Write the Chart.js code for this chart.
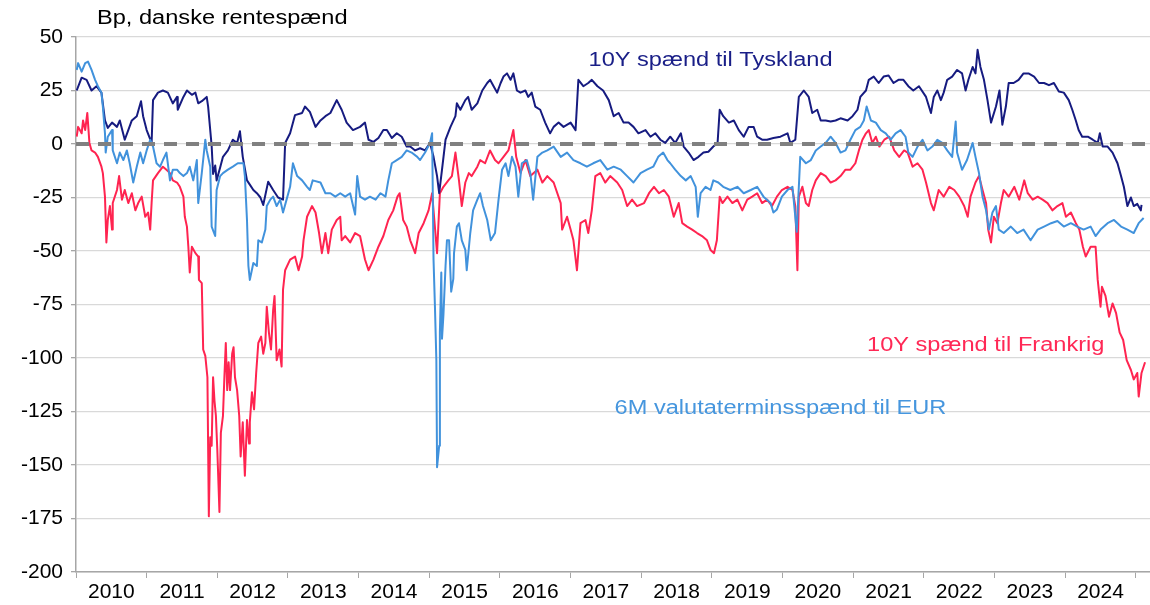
<!DOCTYPE html>
<html>
<head>
<meta charset="utf-8">
<title>Danske rentespænd</title>
<script src="https://cdn.jsdelivr.net/npm/chart.js@4.4.1/dist/chart.umd.min.js"></script>
<style>
  html, body { margin: 0; padding: 0; background: #fff; }
  #wrap { width: 1150px; height: 605px; }
</style>
</head>
<body>
<div id="wrap"><canvas id="chart" width="1150" height="605"></canvas></div>
<script>
// --- data (decimal year, basis points) ---
const years = [2010, 2011, 2012, 2013, 2014, 2015, 2016, 2017, 2018, 2019, 2020, 2021, 2022, 2023, 2024];

// 10Y spænd til Tyskland
const spreadGermany = [
  [2010.01,25],[2010.08,31],[2010.15,30],[2010.22,25],[2010.29,27],[2010.36,24],[2010.41,11],[2010.45,7.5],[2010.51,10],[2010.58,8],[2010.62,11],[2010.69,2],[2010.74,6.5],[2010.79,11],[2010.86,13],[2010.92,20],[2010.95,13],
  [2011.00,6.5],[2011.07,0.5],[2011.09,20.5],[2011.16,24],[2011.23,25],[2011.30,24],[2011.37,19],[2011.43,22],[2011.44,16],[2011.52,22],[2011.57,25],[2011.64,23],[2011.69,24],[2011.73,19],[2011.78,20],[2011.85,22],[2011.87,17.5],[2011.92,-1],[2011.94,-14],[2011.97,-10],[2011.99,-17],
  [2012.04,-11],[2012.08,-6],[2012.15,-3],[2012.22,2],[2012.28,0.5],[2012.32,6],[2012.36,-6],[2012.42,-17],[2012.46,-19],[2012.51,-21.5],[2012.56,-23],[2012.61,-25],[2012.65,-28.5],[2012.72,-17.6],[2012.79,-21.5],[2012.86,-25],[2012.93,-26],[2012.96,0.5],
  [2013.03,5],[2013.10,13.5],[2013.20,14.5],[2013.24,17.5],[2013.31,15],[2013.39,8],[2013.46,11],[2013.53,13],[2013.60,14.5],[2013.69,20.5],[2013.76,16],[2013.83,10],[2013.92,6.5],
  [2014.02,8],[2014.09,10],[2014.14,2],[2014.21,1],[2014.28,2.8],[2014.35,6.5],[2014.40,6.5],[2014.47,2.8],[2014.54,5],[2014.61,3.4],[2014.68,-1.2],[2014.73,-1.2],[2014.80,-3],[2014.87,-2],[2014.94,-3],
  [2015.01,0.5],[2015.06,-6],[2015.11,-15],[2015.14,-23],[2015.18,-12],[2015.23,2],[2015.30,8],[2015.37,13],[2015.39,19],[2015.44,16],[2015.51,20.5],[2015.55,22],[2015.60,16],[2015.68,19],[2015.75,25],[2015.82,28.5],[2015.86,30],[2015.91,27],[2015.96,24],
  [2016.01,28.5],[2016.05,31.5],[2016.10,33],[2016.15,30],[2016.19,33],[2016.24,25],[2016.29,24],[2016.36,25],[2016.40,22],[2016.45,24],[2016.50,17.5],[2016.57,16],[2016.64,10],[2016.71,5],[2016.76,8],[2016.83,10],[2016.90,8],
  [2017.00,10],[2017.07,6.5],[2017.11,30],[2017.18,27],[2017.25,28.5],[2017.30,30],[2017.38,27],[2017.46,25],[2017.54,20.5],[2017.61,13],[2017.68,14.5],[2017.75,10],[2017.82,10],[2017.89,8],[2017.96,5],
  [2018.06,6.5],[2018.13,3.4],[2018.20,5],[2018.27,2],[2018.34,0.5],[2018.41,3.4],[2018.48,0.5],[2018.56,5],[2018.60,-1.2],[2018.67,-4],[2018.74,-7.5],[2018.81,-6],[2018.88,-4],[2018.95,-3.6],
  [2019.02,-1.2],[2019.08,0.5],[2019.11,16],[2019.16,13],[2019.24,10],[2019.31,11],[2019.38,6.5],[2019.45,3.4],[2019.52,8],[2019.59,8],[2019.64,3.4],[2019.71,2],[2019.78,2],[2019.87,2.8],[2019.97,3.4],
  [2020.07,5],[2020.11,0.5],[2020.18,2],[2020.23,22],[2020.30,25],[2020.37,22],[2020.42,14.5],[2020.49,16],[2020.54,11],[2020.61,11],[2020.68,10.5],[2020.75,11],[2020.82,12],[2020.92,11],[2020.99,13],
  [2021.06,16],[2021.10,22],[2021.18,25],[2021.22,30],[2021.29,31.5],[2021.36,28.5],[2021.43,31.5],[2021.50,32],[2021.57,28.5],[2021.64,30],[2021.71,30],[2021.78,27],[2021.85,25],[2021.93,27],
  [2022.03,22],[2022.10,14.5],[2022.14,22],[2022.19,25],[2022.24,20.5],[2022.28,24],[2022.33,30],[2022.40,31.5],[2022.47,34.6],[2022.54,33],[2022.59,25],[2022.63,30],[2022.69,36],[2022.73,33],[2022.76,44],[2022.80,36],[2022.85,30],[2022.90,20.5],[2022.95,10],
  [2023.02,17.5],[2023.07,25],[2023.11,9],[2023.16,17.5],[2023.20,28.5],[2023.27,28.5],[2023.34,30],[2023.41,33],[2023.48,33],[2023.56,31.5],[2023.63,28.5],[2023.70,28.5],[2023.77,27.5],[2023.84,28.5],[2023.91,24.5],[2023.98,24],
  [2024.05,20.5],[2024.10,16],[2024.15,11],[2024.19,6.5],[2024.24,3.4],[2024.32,3.4],[2024.39,2],[2024.46,0.5],[2024.49,5],[2024.53,-1.2],[2024.60,-1.2],[2024.67,-4],[2024.74,-9],[2024.79,-15],[2024.83,-20],[2024.88,-29],[2024.93,-25],[2024.97,-29],
  [2025.02,-28],[2025.07,-31],[2025.08,-28.5]
];

// 6M valutaterminsspænd til EUR
const spreadFxEur = [
  [2010.01,34.6],[2010.03,37.8],[2010.08,33.8],[2010.13,37.8],[2010.17,38.5],[2010.22,34.6],[2010.27,30],[2010.31,27],[2010.36,24],[2010.38,17.5],[2010.41,5],[2010.42,-4],[2010.45,3.4],[2010.51,6.5],[2010.52,-3],[2010.58,-9],[2010.62,-4],[2010.67,-7.5],[2010.72,-3],[2010.76,-9],[2010.81,-18],[2010.86,-10.6],[2010.91,-4],[2010.95,-9],
  [2011.00,-3],[2011.05,2],[2011.09,-1.2],[2011.14,-9],[2011.19,-10.6],[2011.23,-7.5],[2011.28,-4],[2011.33,-17],[2011.37,-12],[2011.43,-12],[2011.47,-13.6],[2011.52,-15],[2011.57,-13.6],[2011.61,-10.6],[2011.66,-17],[2011.71,-7.5],[2011.73,-27.6],[2011.78,-13.6],[2011.83,2],[2011.85,-3],[2011.90,-10.6],[2011.92,-38.6],[2011.97,-43],[2011.99,-21.5],
  [2012.04,-15],[2012.08,-13.6],[2012.15,-12],[2012.22,-10.6],[2012.29,-9],[2012.37,-9],[2012.39,-15],[2012.42,-35.5],[2012.44,-57],[2012.46,-63.5],[2012.51,-55.6],[2012.56,-57],[2012.58,-45],[2012.63,-46],[2012.68,-40],[2012.70,-29],[2012.75,-26],[2012.79,-24.6],[2012.84,-29],[2012.89,-26],[2012.93,-32],[2012.98,-26],
  [2013.03,-20],[2013.07,-9],[2013.13,-15],[2013.20,-17],[2013.27,-20],[2013.31,-21.5],[2013.35,-17],[2013.46,-18],[2013.53,-23],[2013.60,-23],[2013.67,-24.6],[2013.74,-23],[2013.81,-24.6],[2013.88,-23],[2013.95,-33],[2013.98,-15],
  [2014.02,-24.6],[2014.09,-26],[2014.16,-24.6],[2014.24,-26],[2014.31,-23],[2014.38,-24.6],[2014.42,-17],[2014.47,-9],[2014.54,-7.5],[2014.61,-6],[2014.68,-3],[2014.75,-4],[2014.83,-6],[2014.87,-7.5],[2014.94,-4],
  [2015.01,0.5],[2015.04,5],[2015.06,-54],[2015.08,-76],[2015.10,-101],[2015.11,-151],[2015.14,-141],[2015.15,-88],[2015.17,-60],[2015.18,-91],[2015.20,-80],[2015.23,-57],[2015.25,-45],[2015.28,-45],[2015.31,-69],[2015.34,-63],[2015.35,-51],[2015.39,-38.6],[2015.42,-37],[2015.46,-45],[2015.51,-49.5],[2015.53,-59],[2015.58,-41.6],[2015.62,-31],[2015.68,-26],[2015.72,-23],[2015.76,-29],[2015.82,-35.5],[2015.87,-45],[2015.93,-41.6],[2015.98,-26],
  [2016.03,-12],[2016.08,-9],[2016.12,-15],[2016.17,-6],[2016.22,-10.6],[2016.26,-24.6],[2016.31,-9],[2016.38,-7.5],[2016.43,-13.6],[2016.47,-26],[2016.53,-6],[2016.60,-4],[2016.67,-3],[2016.76,-1.2],[2016.86,-6],[2016.95,-4],
  [2017.04,-7.5],[2017.14,-9],[2017.23,-10.6],[2017.32,-9],[2017.42,-7.5],[2017.52,-12],[2017.61,-10.6],[2017.71,-12],[2017.80,-15],[2017.89,-18],[2017.99,-13.6],
  [2018.08,-12],[2018.17,-10.6],[2018.24,-6],[2018.31,-4],[2018.37,-7.5],[2018.41,-9],[2018.48,-12],[2018.56,-15],[2018.63,-17],[2018.70,-15],[2018.77,-20],[2018.80,-34],[2018.84,-23],[2018.91,-20],[2018.98,-21.5],
  [2019.02,-17],[2019.09,-18],[2019.16,-20],[2019.26,-21.5],[2019.36,-20],[2019.45,-23],[2019.55,-21.5],[2019.64,-20],[2019.73,-24.6],[2019.83,-27.6],[2019.87,-32],[2019.92,-30.6],[2019.99,-24.6],
  [2020.07,-21.5],[2020.14,-20],[2020.20,-41],[2020.25,-6],[2020.33,-9],[2020.40,-7.5],[2020.47,-3],[2020.54,-1.2],[2020.61,0.5],[2020.68,3.4],[2020.75,0.5],[2020.82,-4],[2020.89,-3],[2020.96,2],
  [2021.03,6.5],[2021.10,8],[2021.15,11],[2021.19,17.5],[2021.25,11],[2021.32,10],[2021.39,6.5],[2021.46,5],[2021.53,2],[2021.60,5],[2021.67,6.5],[2021.74,3.4],[2021.78,-4],[2021.84,-6],[2021.91,-1.2],[2021.98,2],
  [2022.05,-3],[2022.12,-1.2],[2022.19,2],[2022.26,0.5],[2022.33,-3],[2022.40,-6],[2022.45,10.5],[2022.47,-4],[2022.54,-12],[2022.61,-7.5],[2022.69,0.5],[2022.73,-6],[2022.78,-13.6],[2022.83,-24.6],[2022.88,-31],[2022.92,-40],[2022.97,-32],
  [2023.02,-29],[2023.06,-40],[2023.13,-41.6],[2023.23,-38.6],[2023.32,-41.6],[2023.41,-40],[2023.51,-45],[2023.61,-40],[2023.70,-38.6],[2023.80,-37],[2023.89,-36],[2023.98,-38.6],
  [2024.08,-37],[2024.17,-38.6],[2024.26,-40],[2024.36,-38.6],[2024.43,-43],[2024.50,-40],[2024.60,-37],[2024.69,-35.5],[2024.79,-38.6],[2024.88,-40],[2024.97,-41.6],
  [2025.04,-37],[2025.11,-34.6]
];

// 10Y spænd til Frankrig
const spreadFrance = [
  [2010.01,3.4],[2010.03,8],[2010.08,5],[2010.10,11],[2010.13,6.5],[2010.16,14.5],[2010.19,0.5],[2010.22,-3],[2010.27,-4],[2010.31,-6],[2010.36,-10.6],[2010.38,-13.6],[2010.41,-24.6],[2010.43,-46],[2010.45,-35.5],[2010.48,-29],[2010.51,-40],[2010.52,-27.6],[2010.58,-21.5],[2010.61,-15],[2010.65,-26],[2010.69,-21.5],[2010.74,-27.6],[2010.79,-23],[2010.84,-31],[2010.88,-27.6],[2010.93,-24.6],[2010.98,-34],
  [2011.02,-32],[2011.05,-40],[2011.07,-27.6],[2011.09,-17],[2011.16,-13.6],[2011.23,-10.6],[2011.28,-12],[2011.33,-13.6],[2011.37,-17],[2011.43,-18],[2011.47,-20],[2011.52,-24.6],[2011.54,-34],[2011.57,-38.6],[2011.59,-48],[2011.61,-60],[2011.64,-48],[2011.69,-51],[2011.73,-52.6],[2011.74,-63.5],[2011.78,-65],[2011.80,-96],[2011.83,-99],[2011.86,-109],[2011.88,-174],[2011.90,-137],[2011.92,-141],[2011.94,-109],[2011.96,-120],[2011.98,-127],
  [2012.00,-143],[2012.03,-172],[2012.05,-135],[2012.08,-127],[2012.10,-109],[2012.12,-93],[2012.14,-115],[2012.16,-102],[2012.18,-115],[2012.21,-98],[2012.23,-95],[2012.25,-109],[2012.28,-115],[2012.31,-127],[2012.33,-146],[2012.36,-130],[2012.39,-155],[2012.42,-129],[2012.45,-140],[2012.46,-130],[2012.49,-116],[2012.52,-124],[2012.55,-107],[2012.58,-93],[2012.62,-90],[2012.65,-98],[2012.68,-93],[2012.70,-76],[2012.73,-88],[2012.76,-96],[2012.79,-77.6],[2012.81,-71],[2012.84,-101],[2012.88,-96],[2012.91,-104],[2012.93,-68],[2012.96,-59],
  [2013.03,-54],[2013.10,-52.6],[2013.15,-59],[2013.20,-52.6],[2013.22,-45],[2013.27,-34],[2013.34,-29],[2013.39,-32],[2013.44,-41.6],[2013.48,-51],[2013.53,-41.6],[2013.57,-51],[2013.62,-40],[2013.69,-35.5],[2013.74,-34],[2013.76,-45],[2013.81,-43],[2013.88,-46],[2013.95,-41.6],
  [2014.02,-43],[2014.09,-54],[2014.14,-59],[2014.21,-54],[2014.28,-48],[2014.35,-43],[2014.42,-35.5],[2014.49,-31],[2014.55,-24.6],[2014.58,-23],[2014.63,-35.5],[2014.68,-38.6],[2014.73,-45],[2014.80,-51],[2014.85,-41.6],[2014.92,-37],[2014.99,-31],
  [2015.04,-23],[2015.06,-31],[2015.11,-51],[2015.15,-23],[2015.20,-20],[2015.27,-17],[2015.32,-15],[2015.37,-4],[2015.42,-17],[2015.46,-29],[2015.51,-18],[2015.56,-13.6],[2015.60,-15],[2015.68,-10.6],[2015.72,-7.5],[2015.79,-9],[2015.86,-3],[2015.93,-7.5],[2015.98,-9],
  [2016.05,-6],[2016.12,-3],[2016.19,6.5],[2016.23,-6],[2016.29,-13.6],[2016.36,-7.5],[2016.43,-15],[2016.53,-12],[2016.60,-18],[2016.67,-15],[2016.76,-18],[2016.86,-27.6],[2016.88,-40],[2016.95,-34],
  [2017.00,-40],[2017.04,-45],[2017.09,-59],[2017.14,-37],[2017.21,-35.5],[2017.25,-41.6],[2017.30,-31],[2017.35,-15],[2017.42,-13.6],[2017.49,-18],[2017.56,-15],[2017.66,-18],[2017.73,-21.5],[2017.80,-29],[2017.87,-26],[2017.94,-29],
  [2018.04,-27.6],[2018.11,-23],[2018.18,-20],[2018.25,-23],[2018.32,-21.5],[2018.39,-24.6],[2018.46,-34],[2018.53,-27.6],[2018.58,-37],[2018.65,-38.6],[2018.72,-40],[2018.79,-41.6],[2018.86,-43],[2018.93,-45],[2018.98,-49.5],
  [2019.03,-51],[2019.07,-45],[2019.11,-24.6],[2019.15,-27.6],[2019.22,-24.6],[2019.29,-27.6],[2019.36,-26],[2019.43,-31],[2019.50,-26],[2019.57,-24.6],[2019.64,-23],[2019.71,-27.6],[2019.78,-26],[2019.85,-29],[2019.92,-24.6],[2019.99,-21.5],
  [2020.07,-20],[2020.14,-21.5],[2020.18,-29],[2020.21,-59],[2020.23,-24.6],[2020.28,-20],[2020.33,-27.6],[2020.37,-29],[2020.42,-21.5],[2020.47,-17],[2020.54,-13.6],[2020.61,-15],[2020.68,-18],[2020.75,-17],[2020.82,-15],[2020.89,-12],[2020.96,-12],
  [2021.03,-9],[2021.08,-3],[2021.13,2],[2021.18,5],[2021.22,6.5],[2021.27,0.5],[2021.32,3.4],[2021.37,-1.2],[2021.44,2],[2021.51,3.4],[2021.58,-3],[2021.65,-6],[2021.72,-3],[2021.77,-4],[2021.84,-10.6],[2021.91,-9],[2021.98,-12],
  [2022.03,-18],[2022.10,-27.6],[2022.14,-31],[2022.21,-21.5],[2022.28,-24.6],[2022.36,-20],[2022.43,-21.5],[2022.50,-24.6],[2022.57,-29],[2022.62,-34],[2022.66,-24.6],[2022.73,-18],[2022.78,-15],[2022.83,-21.5],[2022.88,-27.6],[2022.91,-40],[2022.95,-46],[2022.99,-34],
  [2023.04,-37],[2023.09,-27.6],[2023.13,-21.5],[2023.20,-24.6],[2023.28,-20],[2023.35,-26],[2023.42,-17],[2023.47,-23],[2023.54,-26],[2023.61,-24.6],[2023.68,-26],[2023.75,-27.6],[2023.82,-31],[2023.89,-29],[2023.96,-27.6],
  [2024.01,-34],[2024.08,-32],[2024.15,-37],[2024.20,-40],[2024.25,-48],[2024.29,-52.6],[2024.36,-48],[2024.43,-48],[2024.46,-63.5],[2024.50,-76],[2024.52,-66.7],[2024.57,-71],[2024.62,-80.7],[2024.67,-74.5],[2024.72,-79],[2024.77,-88],[2024.82,-91.6],[2024.87,-101],[2024.93,-105.6],[2024.97,-110],
  [2025.02,-107],[2025.04,-118],[2025.08,-107],[2025.13,-102]
];

const xMin = 2010, xMax = 2025.2;
const yMin = -200, yMax = 50, yStep = 25;

const titleText = 'Bp, danske rentespænd';
const seriesLabels = [
  { text: '10Y spænd til Tyskland', t: 2018.98, v: 38.8, color: 'rgb(25,30,135)' },
  { text: '10Y spænd til Frankrig', t: 2022.875, v: -94, color: 'rgb(255,40,85)' },
  { text: '6M valutaterminsspænd til EUR', t: 2019.97, v: -123.4, color: 'rgb(70,150,222)' }
];

const FONT = '"Liberation Sans", Arial, sans-serif';
Chart.defaults.font.family = FONT;
Chart.defaults.color = '#000';

const toPoints = arr => arr.map(p => ({ x: p[0], y: p[1] }));

// tick positions: year boundaries (marks) and mid-years (labels)
const xTickValues = [];
years.forEach(y => { xTickValues.push(y); xTickValues.push(y + 0.5); });
xTickValues.push(years[years.length - 1] + 1);

function drawStretched(ctx, text, x, y, color, align) {
  ctx.save();
  ctx.translate(x, y);
  ctx.scale(1.18, 1);
  ctx.fillStyle = color;
  ctx.textAlign = align;
  ctx.fillText(text, 0, 0);
  ctx.restore();
}

const textPlugin = {
  id: 'texts',
  afterDatasetsDraw(chart) {
    const { ctx, chartArea, scales } = chart;
    ctx.save();
    ctx.font = '20px ' + FONT;
    ctx.textBaseline = 'middle';
    drawStretched(ctx, titleText, chartArea.left + 21, chartArea.top - 19, '#000', 'left');
    seriesLabels.forEach(l => {
      drawStretched(ctx, l.text, scales.x.getPixelForValue(l.t), scales.y.getPixelForValue(l.v), l.color, 'center');
    });
    ctx.restore();
  }
};

const lineStyle = { pointRadius: 0, borderWidth: 2, tension: 0, fill: false, borderJoinStyle: 'round' };

new Chart(document.getElementById('chart'), {
  type: 'line',
  data: {
    datasets: [
      { label: 'nul', data: [{ x: xMin, y: 0 }, { x: xMax, y: 0 }], borderColor: '#808080', borderWidth: 4, borderDash: [13, 9], pointRadius: 0 },
      Object.assign({ label: '6M valutaterminsspænd til EUR', data: toPoints(spreadFxEur), borderColor: 'rgb(65,146,220)' }, lineStyle),
      Object.assign({ label: '10Y spænd til Tyskland', data: toPoints(spreadGermany), borderColor: 'rgb(22,27,128)' }, lineStyle),
      Object.assign({ label: '10Y spænd til Frankrig', data: toPoints(spreadFrance), borderColor: 'rgb(255,36,80)' }, lineStyle)
    ]
  },
  options: {
    responsive: false,
    animation: false,
    devicePixelRatio: 1,
    layout: { padding: { top: 37, right: 0, bottom: 0, left: 0 } },
    plugins: { legend: { display: false }, tooltip: { enabled: false }, title: { display: false } },
    scales: {
      x: {
        type: 'linear',
        min: xMin,
        max: xMax,
        afterBuildTicks: s => { s.ticks = xTickValues.map(v => ({ value: v })); },
        afterFit: s => { s.height = 33; },
        ticks: {
          autoSkip: false,
          maxRotation: 0,
          padding: 2,
          font: { size: 21 },
          color: '#000',
          callback: v => (v % 1 !== 0 ? String(Math.floor(v)) : '')
        },
        grid: {
          drawOnChartArea: false,
          drawTicks: true,
          tickLength: 6,
          color: c => (c.tick && c.tick.value % 1 === 0) ? '#a6a6a6' : 'rgba(0,0,0,0)',
          tickColor: c => (c.tick && c.tick.value % 1 === 0) ? '#a6a6a6' : 'rgba(0,0,0,0)'
        },
        border: { color: '#a6a6a6', width: 1.5 }
      },
      y: {
        min: yMin,
        max: yMax,
        afterFit: s => { s.width = 76; },
        ticks: { stepSize: yStep, padding: 8, font: { size: 21 }, color: '#000' },
        grid: { color: '#d9d9d9', lineWidth: 1.3, tickLength: 5, tickColor: '#a6a6a6' },
        border: { color: '#a6a6a6', width: 1.5 }
      }
    }
  },
  plugins: [textPlugin]
});
</script>
</body>
</html>
